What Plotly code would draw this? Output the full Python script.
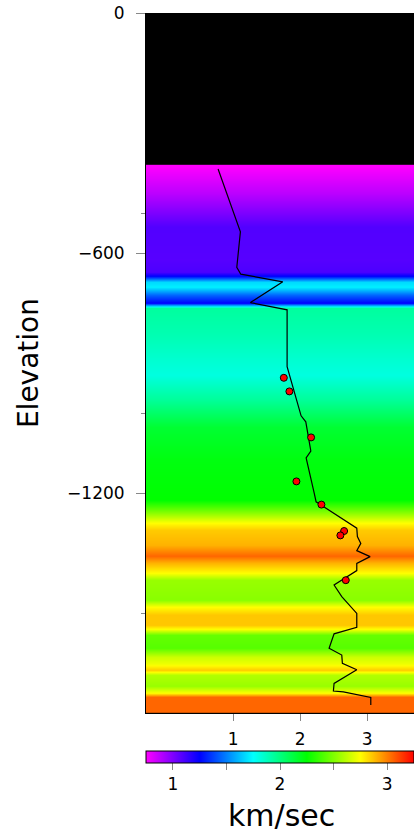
import plotly.graph_objects as go

# ---- data ----
# heatmap velocity profile (elevation, km/sec)
hm_elev = [-380, -381, -450, -535, -617, -647, -657, -672, -685, -705, -725, -737, -805, -867,
           -905, -967, -1035, -1117, -1217, -1247, -1275, -1292, -1330, -1357, -1375, -1400,
           -1417, -1467, -1485, -1505, -1530, -1540, -1555, -1587, -1610, -1627, -1642, -1655,
           -1682, -1700, -1710, -1749, -1750]
hm_vel = [0.75, 0.75, 0.88, 1.09, 1.08, 1.10, 1.25, 1.68, 1.72, 1.45, 1.25, 1.94, 1.90, 1.84,
          1.81, 1.95, 2.15, 2.22, 2.25, 2.50, 2.75, 2.85, 2.90, 3.05, 2.90, 2.75,
          2.55, 2.52, 2.75, 2.86, 2.86, 2.75, 2.45, 2.42, 2.65, 2.72, 2.85, 2.60,
          2.55, 2.75, 3.05, 3.05, 3.05]

# velocity profile line
line_vel = [0.776, 1.109, 1.055, 1.115, 1.742, 1.258, 1.806, 1.806, 2.015, 2.085, 2.16, 2.09,
            2.213, 2.239, 2.846, 2.855, 2.906, 2.846, 3.045, 2.846, 2.846, 2.507, 2.622, 2.846,
            2.846, 2.507, 2.433, 2.622, 2.631, 2.846, 2.507, 2.497, 2.646, 3.055, 3.055]
line_elev = [-390, -547, -636, -653, -672, -724, -742, -884, -1007, -1022, -1095, -1112,
             -1202, -1222, -1288, -1309, -1326, -1344, -1359, -1376, -1394, -1430, -1459, -1501,
             -1536, -1552, -1588, -1605, -1626, -1642, -1676, -1695, -1697, -1711, -1730]

# measured points
pt_vel = [1.757, 1.840, 2.164, 1.945, 2.318, 2.657, 2.601, 2.682]
pt_elev = [-912, -946, -1061, -1171, -1229, -1295, -1306, -1418]

y_ticks = [0, -600, -1200]
y_minor_ticks = [-500, -1000, -1500]
x_ticks = [1, 2, 3]
cb_ticks = [1, 1.5, 2, 2.5, 3]
cb_text = ["1", "", "2", "", "3"]

FONT = "DejaVu Sans"

colorscale = [[0.0, "#ff00ff"], [0.2, "#0000ff"], [0.4, "#00ffff"],
              [0.6, "#00ff00"], [0.8, "#ffff00"], [1.0, "#ff0000"]]

fig = go.Figure()
fig.add_trace(go.Heatmap(
    x=[-0.3, 3.7], y=hm_elev, z=[[v, v] for v in hm_vel],
    zsmooth="best", colorscale=colorscale, zmin=0.75, zmax=3.25,
    colorbar=dict(orientation="h", x=0, xanchor="left", len=1, lenmode="fraction",
                  y=-0.0543, yanchor="top", thickness=12, xpad=0, ypad=0,
                  outlinewidth=1, outlinecolor="black",
                  tickvals=cb_ticks, ticktext=cb_text, ticks="outside", ticklen=7,
                  tickcolor="#888888", tickfont=dict(family=FONT, size=17, color="black")),
    hoverinfo="skip",
))
fig.add_trace(go.Scatter(x=line_vel, y=line_elev, mode="lines",
                         line=dict(color="black", width=1.2), hoverinfo="skip"))
fig.add_trace(go.Scatter(x=pt_vel, y=pt_elev, mode="markers",
                         marker=dict(color="red", size=7, line=dict(color="black", width=1)),
                         hoverinfo="skip"))

fig.update_layout(
    width=414, height=836,
    margin=dict(l=146, r=0, t=13, b=123),
    paper_bgcolor="white", plot_bgcolor="black",
    showlegend=False,
    font=dict(family=FONT, size=17, color="black"),
    xaxis=dict(range=[-0.3, 3.7], tickvals=x_ticks, ticks="outside", ticklen=7,
               tickcolor="#888888", showgrid=False, zeroline=False,
               showline=True, linecolor="black", linewidth=1,
               tickfont=dict(family=FONT, size=17), ticklabelstandoff=4),
    yaxis=dict(range=[-1750, 0], tickvals=y_ticks, ticks="outside", ticklen=9,
               tickcolor="#888888", showgrid=False, zeroline=False,
               showline=True, linecolor="black", linewidth=1,
               tickfont=dict(family=FONT, size=17), ticklabelstandoff=8,
               minor=dict(tickvals=y_minor_ticks, ticks="outside", ticklen=4,
                          tickcolor="#888888", showgrid=False)),
    annotations=[
        dict(text="Elevation", xref="paper", yref="paper", x=-0.44, y=0.5,
             textangle=-90, showarrow=False, xanchor="center", yanchor="middle",
             font=dict(family=FONT, size=28, color="black")),
        dict(text="km/sec", xref="paper", yref="paper", x=0.507, y=-0.147,
             showarrow=False, xanchor="center", yanchor="middle",
             font=dict(family=FONT, size=30, color="black")),
    ],
)

fig.write_html(
    "out.html",
    config={"displayModeBar": False},
    post_script="document.body.style.margin='0';document.body.style.overflow='hidden';",
)
